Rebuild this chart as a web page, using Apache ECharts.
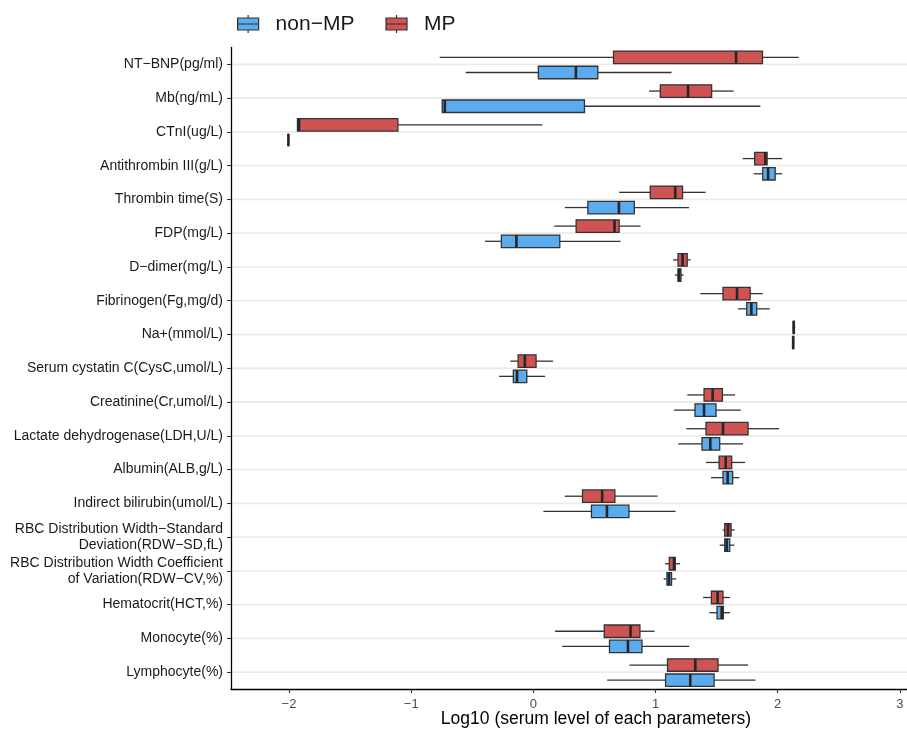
<!DOCTYPE html>
<html>
<head>
<meta charset="utf-8">
<script src="https://cdn.jsdelivr.net/npm/echarts@6/dist/echarts.min.js"></script>
<style>
html,body{margin:0;padding:0;background:#ffffff;}
#chart{width:907px;height:729px;}
</style>
</head>
<body>
<div id="chart"></div>
<script>
// Category labels (top to bottom)
const categories = [
  'NT\u2212BNP(pg/ml)',
  'Mb(ng/mL)',
  'CTnI(ug/L)',
  'Antithrombin III(g/L)',
  'Thrombin time(S)',
  'FDP(mg/L)',
  'D\u2212dimer(mg/L)',
  'Fibrinogen(Fg,mg/d)',
  'Na+(mmol/L)',
  'Serum cystatin C(CysC,umol/L)',
  'Creatinine(Cr,umol/L)',
  'Lactate dehydrogenase(LDH,U/L)',
  'Albumin(ALB,g/L)',
  'Indirect bilirubin(umol/L)',
  'RBC Distribution Width\u2212Standard\nDeviation(RDW\u2212SD,fL)',
  'RBC Distribution Width Coefficient\nof Variation(RDW\u2212CV,%)',
  'Hematocrit(HCT,%)',
  'Monocyte(%)',
  'Lymphocyte(%)'
];

// Series names
const seriesNames = ['non\u2212MP', 'MP'];

// Box statistics per category: [lower whisker, Q1, median, Q3, upper whisker]
const mpValues = [
  [-0.767, 0.656, 1.659, 1.875, 2.172],
  [0.946, 1.039, 1.266, 1.459, 1.639],
  [-1.931, -1.931, -1.918, -1.109, 0.074],
  [1.713, 1.811, 1.898, 1.913, 2.036],
  [0.702, 0.957, 1.161, 1.221, 1.410],
  [0.170, 0.350, 0.664, 0.702, 0.877],
  [1.143, 1.184, 1.221, 1.259, 1.287],
  [1.366, 1.552, 1.667, 1.774, 1.877],
  [2.123, 2.127, 2.131, 2.136, 2.143],
  [-0.189, -0.125, -0.070, 0.022, 0.161],
  [1.260, 1.397, 1.467, 1.547, 1.651],
  [1.252, 1.413, 1.552, 1.757, 2.011],
  [1.413, 1.520, 1.574, 1.623, 1.733],
  [0.257, 0.402, 0.563, 0.667, 1.016],
  [1.549, 1.566, 1.593, 1.618, 1.648],
  [1.077, 1.112, 1.151, 1.161, 1.200],
  [1.389, 1.457, 1.508, 1.552, 1.610],
  [0.178, 0.580, 0.795, 0.872, 0.992],
  [0.787, 1.098, 1.325, 1.511, 1.757]
];

const nonMpValues = [
  [-0.554, 0.041, 0.348, 0.527, 1.131],
  [-0.746, -0.746, -0.725, 0.418, 1.858],
  [-2.005, -2.005, -2.005, -2.005, -2.005],
  [1.803, 1.877, 1.921, 1.979, 2.036],
  [0.257, 0.446, 0.700, 0.826, 1.274],
  [-0.396, -0.262, -0.139, 0.216, 0.713],
  [1.159, 1.184, 1.192, 1.208, 1.229],
  [1.675, 1.746, 1.784, 1.828, 1.934],
  [2.118, 2.122, 2.126, 2.130, 2.135],
  [-0.281, -0.164, -0.134, -0.054, 0.096],
  [1.151, 1.323, 1.397, 1.495, 1.697],
  [1.186, 1.380, 1.448, 1.525, 1.716],
  [1.454, 1.552, 1.590, 1.631, 1.686],
  [0.082, 0.475, 0.602, 0.782, 1.164],
  [1.525, 1.566, 1.582, 1.607, 1.645],
  [1.066, 1.093, 1.110, 1.131, 1.169],
  [1.440, 1.503, 1.541, 1.555, 1.610],
  [0.235, 0.623, 0.774, 0.889, 1.276],
  [0.604, 1.082, 1.284, 1.479, 1.817]
];

const xAxisTitle = 'Log10 (serum level of each parameters)';

const FONT = '"Liberation Sans", Arial, Helvetica, sans-serif';
const STROKE = '#333333';
const COLORS = { 'non\u2212MP': '#5AACEE', 'MP': '#CF5353' };

function toRows(vals) {
  return vals.map(function (v, i) { return [i].concat(v); });
}

function boxRenderer(offsetFrac) {
  return function (params, api) {
    const idx = api.value(0);
    const band = api.size([0, 1])[1];
    const yc = api.coord([0, idx])[1] + offsetFrac * band;
    const h = band * 0.37;
    const px = function (k) { return api.coord([api.value(k), idx])[0]; };
    const xl = px(1), xq1 = px(2), xm = px(3), xq3 = px(4), xu = px(5);
    const color = api.visual('color');
    return {
      type: 'group',
      children: [
        { type: 'line', shape: { x1: xl, y1: yc, x2: xq1, y2: yc }, style: { stroke: STROKE, lineWidth: 1.3 } },
        { type: 'line', shape: { x1: xq3, y1: yc, x2: xu, y2: yc }, style: { stroke: STROKE, lineWidth: 1.3 } },
        { type: 'rect', shape: { x: xq1, y: yc - h / 2, width: xq3 - xq1, height: h }, style: { fill: color, stroke: STROKE, lineWidth: 1.3 } },
        { type: 'line', shape: { x1: xm, y1: yc - h / 2, x2: xm, y2: yc + h / 2 }, style: { stroke: '#262626', lineWidth: 2.6 } }
      ]
    };
  };
}

function gridRenderer(params, api) {
  const idx = api.value(0);
  const y = api.coord([0, idx])[1];
  const cs = params.coordSys;
  return {
    type: 'line',
    shape: { x1: cs.x, y1: y, x2: cs.x + cs.width, y2: y },
    style: { stroke: '#EBEBEB', lineWidth: 1.8 },
    silent: true
  };
}

const chart = echarts.init(document.getElementById('chart'), null, { renderer: 'canvas' });

chart.setOption({
  animation: false,
  backgroundColor: '#ffffff',
  textStyle: { fontFamily: FONT },
  legend: {
    left: 232,
    top: 8.5,
    itemWidth: 21,
    itemHeight: 18,
    itemGap: 31,
    icon: 'path://M0,3H21V15H0Z M0,9H21 M10.5,0V3 M10.5,15V18',
    data: seriesNames,
    textStyle: { fontSize: 21, color: '#1a1a1a', fontFamily: FONT, padding: [0, 0, 0, 12] },
    itemStyle: { borderColor: STROKE, borderWidth: 1.2 }
  },
  grid: { left: 231, width: 730, top: 47.5, height: 641.5, outerBoundsMode: 'none', containLabel: false },
  xAxis: {
    type: 'value',
    min: -2.475,
    max: 3.5,
    splitNumber: 6,
    axisLine: { show: true, onZero: false, lineStyle: { color: '#000000', width: 1.3 } },
    axisTick: { show: true, length: 4, lineStyle: { color: STROKE, width: 1.1 } },
    axisLabel: {
      color: '#4d4d4d', fontSize: 13, margin: 9, fontFamily: FONT,
      showMinLabel: false, showMaxLabel: false,
      formatter: function (v) { return String(v).replace('-', '\u2212'); }
    },
    splitLine: { show: false },
    name: xAxisTitle,
    nameLocation: 'middle',
    nameGap: 21,
    nameMoveOverlap: false,
    nameTextStyle: { fontSize: 17.5, color: '#000000', fontFamily: FONT, verticalAlign: 'top' }
  },
  yAxis: {
    type: 'category',
    data: categories,
    inverse: true,
    axisLine: { show: true, onZero: false, lineStyle: { color: '#000000', width: 1.3 } },
    axisTick: { show: true, alignWithLabel: true, length: 4, lineStyle: { color: STROKE, width: 1.1 } },
    axisLabel: { color: '#1a1a1a', fontSize: 14, lineHeight: 16, margin: 8, align: 'right', fontFamily: FONT },
    splitLine: { show: false }
  },
  series: [
    {
      name: '__grid',
      type: 'custom',
      renderItem: gridRenderer,
      data: categories.map(function (c, i) { return [i]; }),
      encode: { y: 0 },
      silent: true,
      z: 0
    },
    {
      name: seriesNames[0],
      type: 'custom',
      renderItem: boxRenderer(0.24),
      itemStyle: { color: COLORS[seriesNames[0]] },
      data: toRows(nonMpValues),
      encode: { x: [1, 2, 3, 4, 5], y: 0 },
      z: 2
    },
    {
      name: seriesNames[1],
      type: 'custom',
      renderItem: boxRenderer(-0.21),
      itemStyle: { color: COLORS[seriesNames[1]] },
      data: toRows(mpValues),
      encode: { x: [1, 2, 3, 4, 5], y: 0 },
      z: 2
    }
  ]
});
</script>
</body>
</html>
